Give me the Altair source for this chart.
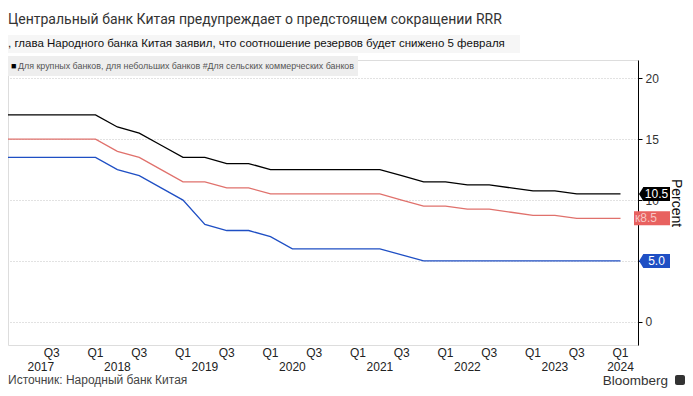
import altair as alt
import pandas as pd

# ---- data (quarterly, Q1 2017 .. Q1 2024) ----
quarter_idx = list(range(29))
large_banks = [17, 17, 17, 17, 17, 16, 15.5, 14.5, 13.5, 13.5, 13, 13, 12.5, 12.5, 12.5,
               12.5, 12.5, 12.5, 12, 11.5, 11.5, 11.25, 11.25, 11, 10.75, 10.75, 10.5, 10.5, 10.5]
small_banks = [15, 15, 15, 15, 15, 14, 13.5, 12.5, 11.5, 11.5, 11, 11, 10.5, 10.5, 10.5,
               10.5, 10.5, 10.5, 10, 9.5, 9.5, 9.25, 9.25, 9, 8.75, 8.75, 8.5, 8.5, 8.5]
rural_banks = [13.5, 13.5, 13.5, 13.5, 13.5, 12.5, 12, 11, 10, 8, 7.5, 7.5, 7, 6, 6,
               6, 6, 6, 5.5, 5, 5, 5, 5, 5, 5, 5, 5, 5, 5]
series_names = ["Для крупных банков", "для небольших банков", "Для сельских коммерческих банков"]
series_colors = ["#000000", "#e0716c", "#1f4fc4"]

q_label_idx = [2, 4, 6, 8, 10, 12, 14, 16, 18, 20, 22, 24, 26, 28]
q_labels = ["Q3", "Q1", "Q3", "Q1", "Q3", "Q1", "Q3", "Q1", "Q3", "Q1", "Q3", "Q1", "Q3", "Q1"]
year_idx = [1.5, 5, 9, 13, 17, 21, 25, 28]
year_labels = ["2017", "2018", "2019", "2020", "2021", "2022", "2023", "2024"]

tag_values = [10.5, 8.5, 5.0]
tag_texts = ["10.5", "к8.5", "5.0"]

title_text = "Центральный банк Китая предупреждает о предстоящем сокращении RRR"
subtitle_text = ", глава Народного банка Китая заявил, что соотношение резервов будет снижено 5 февраля"
legend_text = "Для крупных банков, для небольших банков #Для сельских коммерческих банков"
source_text = "Источник: Народный банк Китая"

FONT = "Liberation Sans"
W, H = 630, 285

rows = []
for name, vals in zip(series_names, [large_banks, small_banks, rural_banks]):
    for i, v in zip(quarter_idx, vals):
        rows.append({"i": i, "v": v, "s": name})
df = pd.DataFrame(rows)

xscale = alt.Scale(domain=[0, 28.8], nice=False, zero=False)
yscale = alt.Scale(domain=[-1.9, 21.5], nice=False, zero=False)

yaxis = alt.Axis(
    orient="right",
    values=[0, 2.5, 5, 7.5, 10, 12.5, 15, 17.5, 20],
    labelExpr="datum.value % 5 == 0 ? datum.label : ''",
    grid=True,
    gridColor="#c4c4c4",
    gridDash=[1, 2],
    gridOpacity={"condition": {"test": "datum.value % 5 == 0", "value": 1}, "value": 0},
    domainColor="#000000",
    tickColor="#000000",
    tickSize=4,
    labelFontSize=12,
    labelColor="#333333",
    labelFont=FONT,
    labelPadding=3,
    title="Percent",
    titleFont=FONT,
    titleFontSize=14,
    titleFontWeight="normal",
    titleColor="#111111",
    titleAngle=90,
    titlePadding=10,
)

lines = alt.Chart(df).mark_line(strokeWidth=1.3).encode(
    x=alt.X("i:Q", scale=xscale, axis=None),
    y=alt.Y("v:Q", scale=yscale, axis=yaxis),
    color=alt.Color("s:N", scale=alt.Scale(domain=series_names, range=series_colors), legend=None),
    detail="s:N",
)

one = pd.DataFrame({"t": [""]})


def txt(text, x, y, size, color, align="left", font=FONT, baseline="alphabetic"):
    kw = dict(align=align, baseline=baseline, fontSize=size, color=color, font=font)
    return alt.Chart(pd.DataFrame({"t": [text]})).mark_text(**kw).encode(
        x=alt.value(x), y=alt.value(y), text="t:N")


def box(x, x2, y, y2, color, radius=0):
    return alt.Chart(one).mark_rect(color=color, cornerRadius=radius).encode(
        x=alt.value(x), x2=alt.value(x2), y=alt.value(y), y2=alt.value(y2))


title = txt(title_text, 0, -36, 14, "#333333", font="Roboto")
sub_bg = box(0, 512, -25, -7, "#f6f6f6")
subtitle = txt(subtitle_text, 0, -13, 11.5, "#111111")
leg_bg = box(0, 350, -4, 16, "#eeeeee")
leg_sq = txt("■", 3, 9, 9, "#000000")
legend = txt(legend_text, 10, 9, 8.9, "#555555")

qdf = pd.DataFrame({"i": q_label_idx, "t": q_labels})
qtext = alt.Chart(qdf).mark_text(fontSize=12, color="#222222", font=FONT, baseline="middle").encode(
    x=alt.X("i:Q", scale=xscale), y=alt.value(293), text="t:N")
ydf = pd.DataFrame({"i": year_idx, "t": year_labels})
ytext = alt.Chart(ydf).mark_text(fontSize=12, color="#222222", font=FONT, baseline="middle").encode(
    x=alt.X("i:Q", scale=xscale), y=alt.value(307), text="t:N")

source = txt(source_text, 0, 324, 12, "#444444")
bloom = txt("Bloomberg", 660, 325, 13.5, "#333333", align="right")
icon = box(667, 677, 315, 325, "#333333", radius=2)

# value tags on the right axis
tdf = pd.DataFrame({"v": tag_values, "t": tag_texts, "s": series_names})
arrow_path = "M-1,0L-0.72,-0.45L1,-0.45L1,0.45L-0.72,0.45Z"
rect_path = "M-1,-0.39L1,-0.39L1,0.39L-1,0.39Z"
tag_black_blue = alt.Chart(tdf[tdf.s != series_names[1]]).mark_point(
    shape=arrow_path, filled=True, size=961, opacity=1, strokeWidth=0).encode(
    x=alt.value(646.5), y=alt.Y("v:Q", scale=yscale),
    color=alt.Color("s:N", scale=alt.Scale(domain=series_names, range=series_colors), legend=None))
tag_red = alt.Chart(tdf[tdf.s == series_names[1]]).mark_point(
    shape=rect_path, filled=True, size=1296, opacity=1, strokeWidth=0).encode(
    x=alt.value(644), y=alt.Y("v:Q", scale=yscale),
    color=alt.value("#e8615f"))
tag_text_bb = alt.Chart(tdf[tdf.s != series_names[1]]).mark_text(
    fontSize=12, color="white", font=FONT, baseline="middle", align="center").encode(
    x=alt.value(648.5), y=alt.Y("v:Q", scale=yscale), text="t:N")
tag_text_r = alt.Chart(tdf[tdf.s == series_names[1]]).mark_text(
    fontSize=12, color="#f6c7c5", font=FONT, baseline="middle", align="left").encode(
    x=alt.value(627), y=alt.Y("v:Q", scale=yscale), text="t:N")

chart = alt.layer(
    lines, tag_black_blue, tag_red, tag_text_bb, tag_text_r,
    qtext, ytext, sub_bg, leg_bg, title, subtitle, leg_sq, legend, source, bloom, icon,
).properties(
    width=W, height=H,
    autosize=alt.AutoSizeParams(type="none"),
    padding={"left": 0, "top": 52, "right": 47, "bottom": 43},
).configure_view(stroke=None).configure(background="white")

chart.save("out.html", embed_options={"renderer": "svg", "actions": False})
